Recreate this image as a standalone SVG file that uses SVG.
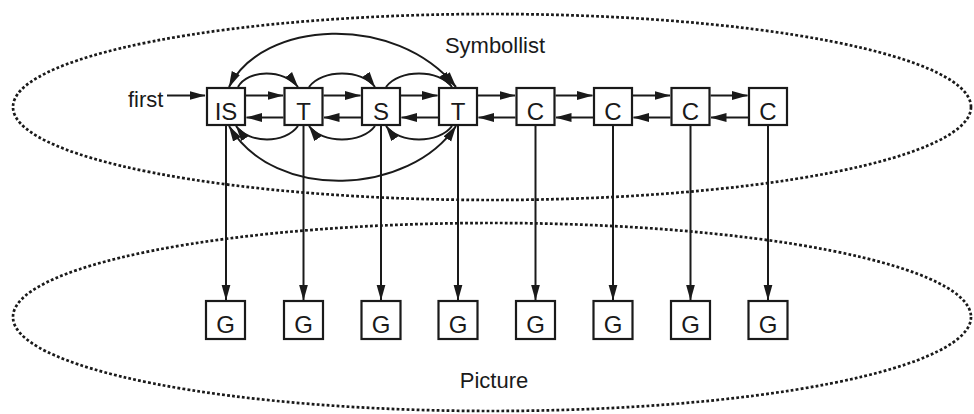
<svg xmlns="http://www.w3.org/2000/svg" width="974" height="414" viewBox="0 0 974 414">
  <defs>
    <marker id="ah" markerUnits="userSpaceOnUse" markerWidth="16" markerHeight="10" viewBox="0 0 16 9" refX="15.5" refY="4.5" orient="auto-start-reverse">
      <path d="M0,0 L16,4.5 L0,9 Z" fill="#1a1a1a"/>
    </marker>
    <style>
      .region { fill: none; stroke: #1a1a1a; stroke-width: 2.7; stroke-dasharray: 2.8 2.2; }
      .box { fill: #fff; stroke: #1a1a1a; stroke-width: 2.2; }
      .lbl { font-family: "Liberation Sans", Arial, sans-serif; font-size: 24px; fill: #1a1a1a; text-anchor: middle; }
      .title { font-family: "Liberation Sans", Arial, sans-serif; font-size: 22px; fill: #1a1a1a; }
      .conn { fill: none; stroke: #1a1a1a; stroke-width: 2; }
      .arr { marker-end: url(#ah); }
      .dbl { marker-start: url(#ah); marker-end: url(#ah); }
    </style>
  </defs>
  <rect width="974" height="414" fill="#fff"/>

  <g id="symbollist-region">
    <ellipse class="region" cx="492" cy="107" rx="479" ry="93"/>
    <text class="title" x="495" y="53" text-anchor="middle">Symbollist</text>
  </g>
  <g id="picture-region">
    <ellipse class="region" cx="492" cy="317" rx="479" ry="94"/>
    <text class="title" x="494" y="388" text-anchor="middle">Picture</text>
  </g>

  <g id="first-label">
    <text class="title" x="128" y="107">first</text>
  </g>

  <g id="connectors">
    <!-- first pointer -->
    <line class="conn arr" x1="167" y1="95.5" x2="205" y2="95.5"/>
    <!-- forward links -->
    <line class="conn arr" x1="246" y1="95.5" x2="283" y2="95.5"/>
    <line class="conn arr" x1="323.5" y1="95.5" x2="360.5" y2="95.5"/>
    <line class="conn arr" x1="401" y1="95.5" x2="437.5" y2="95.5"/>
    <line class="conn arr" x1="478" y1="95.5" x2="515" y2="95.5"/>
    <line class="conn arr" x1="555.5" y1="95.5" x2="592.5" y2="95.5"/>
    <line class="conn arr" x1="633" y1="95.5" x2="670" y2="95.5"/>
    <line class="conn arr" x1="710.5" y1="95.5" x2="747.5" y2="95.5"/>
    <!-- backward links -->
    <line class="conn arr" x1="283.5" y1="117.5" x2="246.5" y2="117.5"/>
    <line class="conn arr" x1="361" y1="117.5" x2="324" y2="117.5"/>
    <line class="conn arr" x1="438" y1="117.5" x2="401.5" y2="117.5"/>
    <line class="conn arr" x1="515.5" y1="117.5" x2="478.5" y2="117.5"/>
    <line class="conn arr" x1="593" y1="117.5" x2="556" y2="117.5"/>
    <line class="conn arr" x1="670.5" y1="117.5" x2="633.5" y2="117.5"/>
    <line class="conn arr" x1="748" y1="117.5" x2="711" y2="117.5"/>
    <!-- upper skip arcs -->
    <path class="conn arr" d="M238,87 C248,69 284,69 298,87"/>
    <path class="conn arr" d="M309,87 C322,69 362,69 375,87"/>
    <path class="conn arr" d="M386,87 C399,69 439,69 452,87"/>
    <path class="conn dbl" d="M229,87 C262,20 395,12 456,87"/>
    <!-- lower skip arcs -->
    <path class="conn arr" d="M298,126 C285,144 249,144 236,126"/>
    <path class="conn arr" d="M375,126 C362,144 322,144 309,126"/>
    <path class="conn arr" d="M452,126 C439,144 399,144 386,126"/>
    <path class="conn dbl" d="M229,126 C275,203 410,195 456,126"/>
    <!-- symbol to graphic links -->
    <line class="conn arr" x1="226" y1="126" x2="226" y2="300"/>
    <line class="conn arr" x1="303.5" y1="126" x2="303.5" y2="300"/>
    <line class="conn arr" x1="381" y1="126" x2="381" y2="300"/>
    <line class="conn arr" x1="458" y1="126" x2="458" y2="300"/>
    <line class="conn arr" x1="535.5" y1="126" x2="535.5" y2="300"/>
    <line class="conn arr" x1="613" y1="126" x2="613" y2="300"/>
    <line class="conn arr" x1="690.5" y1="126" x2="690.5" y2="300"/>
    <line class="conn arr" x1="768" y1="126" x2="768" y2="300"/>
  </g>

  <g id="s1"><rect class="box" x="207" y="88" width="38" height="37"/><text class="lbl" x="226" y="120">IS</text></g>
  <g id="s2"><rect class="box" x="284.5" y="88" width="38" height="37"/><text class="lbl" x="303.5" y="120">T</text></g>
  <g id="s3"><rect class="box" x="362" y="88" width="38" height="37"/><text class="lbl" x="381" y="120">S</text></g>
  <g id="s4"><rect class="box" x="439" y="88" width="38" height="37"/><text class="lbl" x="458" y="120">T</text></g>
  <g id="s5"><rect class="box" x="516.5" y="88" width="38" height="37"/><text class="lbl" x="535.5" y="120">C</text></g>
  <g id="s6"><rect class="box" x="594" y="88" width="38" height="37"/><text class="lbl" x="613" y="120">C</text></g>
  <g id="s7"><rect class="box" x="671.5" y="88" width="38" height="37"/><text class="lbl" x="690.5" y="120">C</text></g>
  <g id="s8"><rect class="box" x="749" y="88" width="38" height="37"/><text class="lbl" x="768" y="120">C</text></g>

  <g id="g1"><rect class="box" x="206" y="301" width="39" height="38"/><text class="lbl" x="225.5" y="333">G</text></g>
  <g id="g2"><rect class="box" x="284" y="301" width="39" height="38"/><text class="lbl" x="303.5" y="333">G</text></g>
  <g id="g3"><rect class="box" x="361.5" y="301" width="39" height="38"/><text class="lbl" x="381" y="333">G</text></g>
  <g id="g4"><rect class="box" x="438.5" y="301" width="39" height="38"/><text class="lbl" x="458" y="333">G</text></g>
  <g id="g5"><rect class="box" x="516" y="301" width="39" height="38"/><text class="lbl" x="535.5" y="333">G</text></g>
  <g id="g6"><rect class="box" x="593.5" y="301" width="39" height="38"/><text class="lbl" x="613" y="333">G</text></g>
  <g id="g7"><rect class="box" x="671" y="301" width="39" height="38"/><text class="lbl" x="690.5" y="333">G</text></g>
  <g id="g8"><rect class="box" x="748.5" y="301" width="39" height="38"/><text class="lbl" x="768" y="333">G</text></g>
</svg>
